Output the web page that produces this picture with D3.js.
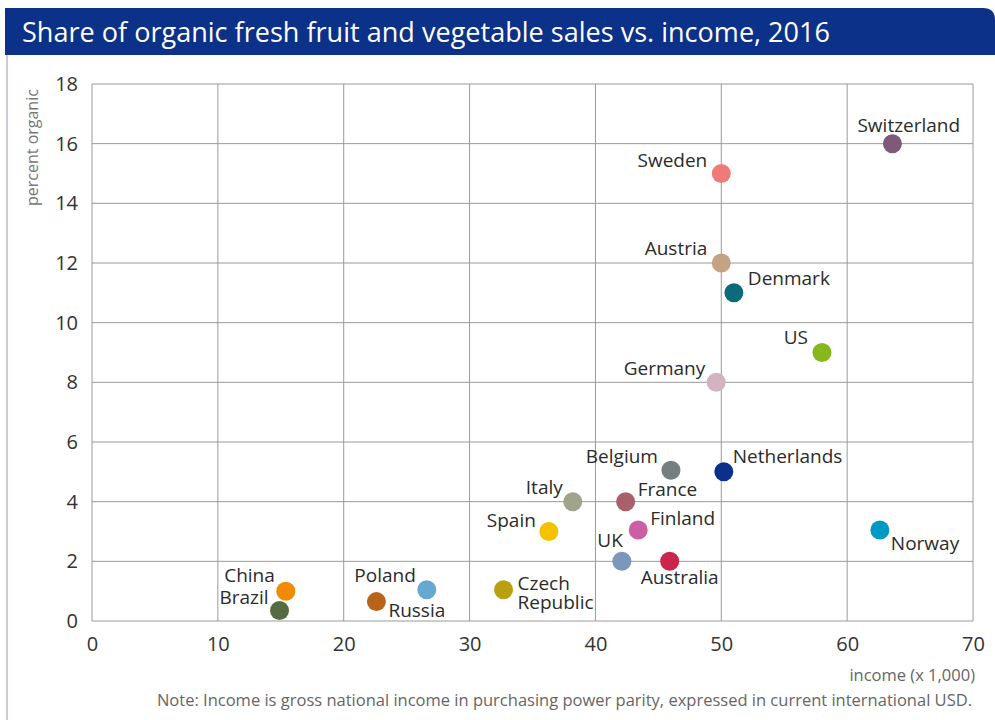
<!DOCTYPE html>
<html>
<head>
<meta charset="utf-8">
<script src="https://cdn.jsdelivr.net/npm/d3@7"></script>
<style>
  body { margin: 0; background: #fff; overflow: hidden; }
  svg { display: block; }
  text { font-family: "Open Sans", "Noto Sans", sans-serif; }
</style>
</head>
<body>
<div id="plot"></div>
<script>
// data
const countries = ["Switzerland", "Sweden", "Austria", "Denmark", "US", "Germany",
  "Belgium", "Netherlands", "Italy", "France", "Spain", "Finland", "Norway",
  "UK", "Australia", "Czech Republic", "Poland", "Russia", "China", "Brazil"];
const income = [63.6, 50.0, 50.0, 51.0, 58.0, 49.6, 46.0, 50.2, 38.2, 42.4,
  36.3, 43.4, 62.6, 42.1, 45.9, 32.7, 26.6, 22.6, 15.4, 14.9];
const organic = [16.0, 15.0, 12.0, 11.0, 9.0, 8.0, 5.05, 5.0, 4.0, 4.0,
  3.0, 3.05, 3.05, 2.0, 2.0, 1.05, 1.05, 0.65, 1.0, 0.35];
const colors = ["#7e5a76", "#ef7b78", "#c4a282", "#0b6b7b", "#84b81c", "#d3b3c1",
  "#767f80", "#0b3089", "#a0a48a", "#a9606a", "#f6c200", "#cc5fa3", "#0098c4",
  "#7b97bc", "#c8264a", "#b9a010", "#66a8cf", "#b96318", "#f08a00", "#546b43"];
const xTicks = [0, 10, 20, 30, 40, 50, 60, 70];
const yTicks = [0, 2, 4, 6, 8, 10, 12, 14, 16, 18];

// label placement around each dot: [dx, dy, anchor]
const labelPos = {
  "Switzerland": [-35, -12, "start"],
  "Sweden": [-14, -7, "end"],
  "Austria": [-14, -8, "end"],
  "Denmark": [14, -8, "start"],
  "US": [-14, -9, "end"],
  "Germany": [-11, -7, "end"],
  "Belgium": [-13, -7, "end"],
  "Netherlands": [9, -9, "start"],
  "Italy": [-10, -8, "end"],
  "France": [12, -6, "start"],
  "Spain": [-13, -5, "end"],
  "Finland": [12, -5, "start"],
  "Norway": [11, 20, "start"],
  "UK": [1, -14, "end"],
  "Australia": [10, 23, "middle"],
  "Czech Republic": [14, 0, "start"],
  "Poland": [-11, -8, "end"],
  "Russia": [12, 15, "start"],
  "China": [-11, -9, "end"],
  "Brazil": [-11, -7, "end"]
};

const w = 995, h = 720;
const margin = {top: 84, right: 22, bottom: 99, left: 92};
const innerWidth = w - margin.left - margin.right;
const innerHeight = h - margin.top - margin.bottom;

const data = countries.map((c, i) => ({name: c, x: income[i], y: organic[i], color: colors[i]}));

const svg = d3.select("#plot")
  .append("svg")
    .attr("width", w)
    .attr("height", h);

// title bar
svg.append("path")
    .attr("d", `M5,8 H983 Q995,8 995,20 V55 H5 Z`)
    .attr("fill", "#0c3189");
svg.append("text")
    .attr("x", 22)
    .attr("y", 42)
    .attr("fill", "#fff")
    .attr("font-size", 28)
    .attr("textLength", 808)
    .attr("lengthAdjust", "spacingAndGlyphs")
    .text("Share of organic fresh fruit and vegetable sales vs. income, 2016");

// left frame line
svg.append("line")
    .attr("x1", 7).attr("x2", 7)
    .attr("y1", 55).attr("y2", h)
    .attr("stroke", "#b8bcc4")
    .attr("stroke-width", 1.5);

const xScale = d3.scaleLinear()
    .domain([0, 70])
    .range([0, innerWidth]);

const yScale = d3.scaleLinear()
    .domain([0, 18])
    .range([innerHeight, 0]);

const g = svg.append("g")
    .attr("transform", `translate(${margin.left}, ${margin.top})`);

// grid
g.append("g")
  .selectAll("line")
  .data(xTicks)
  .enter().append("line")
    .attr("x1", d => xScale(d)).attr("x2", d => xScale(d))
    .attr("y1", 0).attr("y2", innerHeight)
    .attr("stroke", "#9a9a9a")
    .attr("stroke-width", 1);

g.append("g")
  .selectAll("line")
  .data(yTicks)
  .enter().append("line")
    .attr("x1", 0).attr("x2", innerWidth)
    .attr("y1", d => yScale(d)).attr("y2", d => yScale(d))
    .attr("stroke", "#9a9a9a")
    .attr("stroke-width", 1);

// axes
const xAxis = d3.axisBottom(xScale).tickValues(xTicks).tickSize(0).tickPadding(16);
const yAxis = d3.axisLeft(yScale).tickValues(yTicks).tickSize(0).tickPadding(14);

g.append("g")
    .attr("class", "xAxis")
    .attr("transform", `translate(0, ${innerHeight})`)
    .call(xAxis)
    .call(a => a.select(".domain").remove())
    .selectAll("text")
    .attr("font-size", 20)
    .attr("fill", "#333")
    .style("font-family", "'Open Sans', sans-serif");

g.append("g")
    .attr("class", "yAxis")
    .call(yAxis)
    .call(a => a.select(".domain").remove())
    .selectAll("text")
    .attr("font-size", 20)
    .attr("fill", "#333")
    .style("font-family", "'Open Sans', sans-serif");

// dots
g.append("g")
  .selectAll("circle")
  .data(data)
  .enter().append("circle")
    .attr("cx", d => xScale(d.x))
    .attr("cy", d => yScale(d.y))
    .attr("r", 9.5)
    .attr("fill", d => d.color);

// labels
const labels = g.append("g")
  .selectAll("text")
  .data(data)
  .enter().append("text")
    .attr("x", d => xScale(d.x) + labelPos[d.name][0])
    .attr("y", d => yScale(d.y) + labelPos[d.name][1])
    .attr("text-anchor", d => labelPos[d.name][2])
    .attr("font-size", 19)
    .attr("fill", "#2b2b2b");

labels.each(function(d) {
  const parts = d.name === "Czech Republic" ? ["Czech", "Republic"] : [d.name];
  const t = d3.select(this);
  parts.forEach((p, i) => {
    t.append("tspan")
      .attr("x", xScale(d.x) + labelPos[d.name][0])
      .attr("dy", i === 0 ? 0 : 19)
      .text(p);
  });
});

// axis titles
svg.append("text")
    .attr("transform", "translate(38, 206) rotate(-90)")
    .attr("font-size", 16)
    .attr("fill", "#777")
    .text("percent organic");

svg.append("text")
    .attr("x", 975)
    .attr("y", 681)
    .attr("text-anchor", "end")
    .attr("font-size", 16.5)
    .attr("fill", "#666")
    .text("income (x 1,000)");

svg.append("text")
    .attr("x", 972)
    .attr("y", 706)
    .attr("text-anchor", "end")
    .attr("font-size", 16.5)
    .attr("fill", "#666")
    .text("Note: Income is gross national income in purchasing power parity, expressed in current international USD.");
</script>
</body>
</html>
